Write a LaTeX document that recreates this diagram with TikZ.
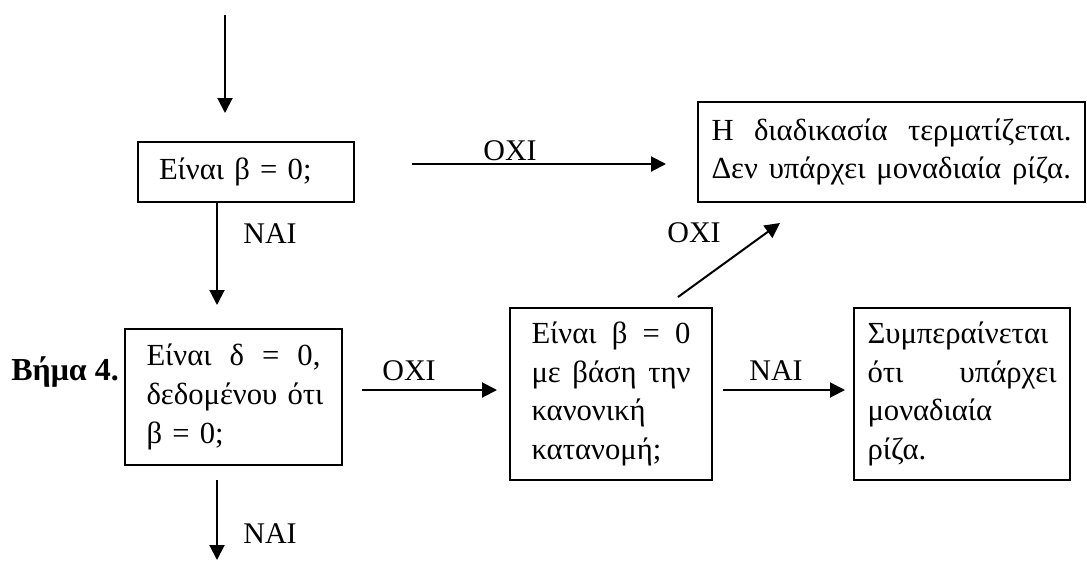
\documentclass[tikz,border=0pt]{standalone}
\usepackage{fontspec}
\setmainfont{Liberation Serif}
\usetikzlibrary{arrows.meta}
\begin{document}
\begin{tikzpicture}[x=0.75pt,y=-0.75pt,
  txt/.style={font=\fontsize{22.5}{29}\selectfont},
  btxt/.style={font=\fontsize{23}{29}\selectfont},
  box/.style={btxt,draw,line width=1.5pt,align=left,inner ysep=0pt},
  arr/.style={line width=1.5pt,-{Triangle[width=11.25pt,length=11.25pt]}},
  lbl/.style={txt,inner sep=0pt,anchor=base}]
\useasboundingbox (0,0) rectangle (1087,561);
% boxes
\node[box,text width=130.5pt,inner xsep=15.75pt,minimum height=45pt] (b1) at (246,172) {Είναι β = 0;};
\node[box,text width=270pt,inner xsep=10.125pt,minimum height=75pt,xshift=1.5pt] (bt) at (889.5,152)
  {Η~\hfill διαδικασία~\hfill τερματίζεται.\\Δεν~\hfill υπάρχει~\hfill μοναδιαία~\hfill ρίζα.\hfill\null};
\node[box,text width=130.5pt,inner xsep=16.125pt,minimum height=102pt] (b2) at (233.5,397)
  {Είναι~\hfill δ~\hfill =~\hfill 0,\\δεδομένου~\hfill ότι\\β = 0;};
\node[box,text width=119.25pt,inner xsep=16.125pt,minimum height=129pt] (b3) at (611,394)
  {Είναι~\hfill β~\hfill =~\hfill 0\\με~\hfill βάση~\hfill την\\κανονική\\κατανομή;};
\node[box,text width=141.75pt,inner xsep=10.125pt,minimum height=129pt] (b4) at (962,394)
  {Συμπεραίνεται\\ότι~\hfill υπάρχει\\μοναδιαία\\ρίζα.};
\node[font=\fontsize{24}{29}\selectfont\bfseries,inner sep=0pt,anchor=base west] (step4) at (11,380) {Βήμα 4.};
% coordinates
\coordinate (in0) at (225,15);
\coordinate (in1) at (225,113);
\coordinate (o1s) at (412,164);
\coordinate (o1e) at (666,164);
\coordinate (n1e) at (217,305);
\coordinate (o2s) at (362,390);
\coordinate (o2e) at (497,390);
\coordinate (n2s) at (723,390);
\coordinate (n2e) at (845,390);
\coordinate (o3s) at (678,297);
\coordinate (o3e) at (780,223);
\coordinate (n3s) at (217,480);
\coordinate (n3e) at (217,560);
% connectors
\draw[arr] (in0) -- (in1);
\draw[arr] (o1s) -- (o1e);
\draw[arr] (b1.south -| n1e) -- (n1e);
\draw[arr] (o2s) -- (o2e);
\draw[arr] (n2s) -- (n2e);
\draw[arr] (o3s) -- (o3e);
\draw[arr] (n3s) -- (n3e);
% labels
\node[lbl] (l1) at (510,160) {ΟΧΙ};
\node[lbl] (l2) at (270,243) {ΝΑΙ};
\node[lbl] (l3) at (694,242) {ΟΧΙ};
\node[lbl] (l4) at (409,380) {ΟΧΙ};
\node[lbl] (l5) at (776,380) {ΝΑΙ};
\node[lbl] (l6) at (270,543) {ΝΑΙ};
\end{tikzpicture}
\end{document}
